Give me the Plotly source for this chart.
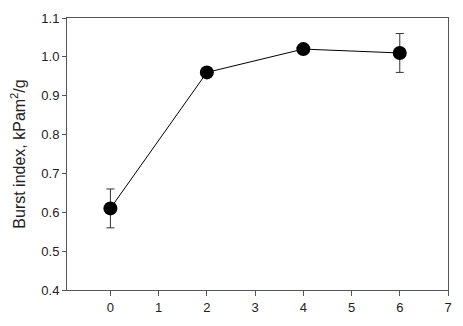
import plotly.graph_objects as go

x_vals = [0, 2, 4, 6]
y_vals = [0.61, 0.96, 1.02, 1.01]
y_err = [0.05, 0.005, 0.005, 0.05]
x_ticks = [0, 1, 2, 3, 4, 5, 6, 7]
y_ticks = [0.4, 0.5, 0.6, 0.7, 0.8, 0.9, 1.0, 1.1]

font_family = "Liberation Sans Narrow, Arial Narrow, Liberation Sans, sans-serif"

fig = go.Figure(go.Scatter(
    x=x_vals, y=y_vals, mode="lines+markers",
    line=dict(color="black", width=1),
    marker=dict(color="black", size=14),
    error_y=dict(type="data", array=y_err, visible=True, color="#333", thickness=1, width=4),
))

fig.update_layout(
    width=463, height=326,
    margin=dict(l=67, r=11, t=12, b=36),
    paper_bgcolor="white", plot_bgcolor="white",
    showlegend=False,
    font=dict(family=font_family, size=13, color="#222"),
)
fig.update_xaxes(
    range=[-0.9, 7], tickvals=x_ticks, ticktext=[str(v) for v in x_ticks],
    showgrid=False, zeroline=False, showline=True, linecolor="#555", linewidth=1,
    mirror=True, ticks="outside", ticklen=5, tickcolor="#555",
)
fig.update_yaxes(
    range=[0.4, 1.1], tickvals=y_ticks, ticktext=[f"{v:.1f}" for v in y_ticks],
    showgrid=False, zeroline=False, showline=True, linecolor="#555", linewidth=1,
    mirror=True, ticks="outside", ticklen=4, tickcolor="#555",
    title=dict(text="Burst index, kPam<sup>2</sup>/g", standoff=11),
)
fig.write_html("out.html")
